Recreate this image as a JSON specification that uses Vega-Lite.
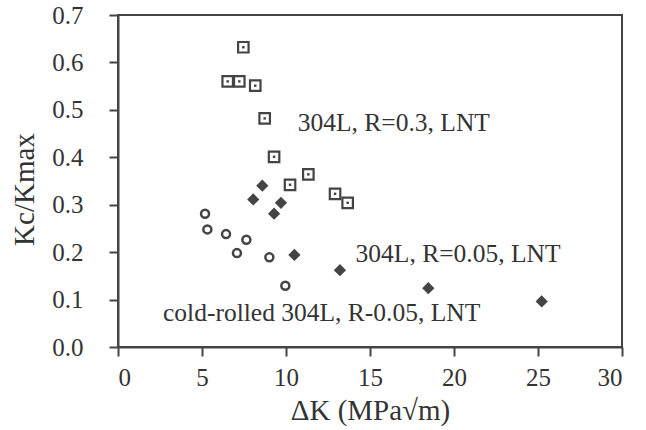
{
  "$schema": "https://vega.github.io/schema/vega-lite/v6.json",
  "autosize": "none",
  "width": 504,
  "height": 332,
  "padding": {"left": 118, "top": 15, "right": 24, "bottom": 83},
  "background": "white",
  "config": {
    "view": {"stroke": "#444", "strokeWidth": 2},
    "axis": {
      "grid": false,
      "domainColor": "#444",
      "domainWidth": 2,
      "tickColor": "#444",
      "tickWidth": 2,
      "tickSize": 9,
      "labelFont": "Liberation Serif",
      "labelFontSize": 25,
      "labelColor": "#333",
      "titleFont": "Liberation Serif",
      "titleFontSize": 29,
      "titleFontWeight": "normal",
      "titleColor": "#333"
    }
  },
  "datasets": {
    "pts": [
      {"series": "R03", "x": 7.46, "y": 0.632},
      {"series": "R03", "x": 6.53, "y": 0.560},
      {"series": "R03", "x": 7.22, "y": 0.560},
      {"series": "R03", "x": 8.17, "y": 0.551},
      {"series": "R03", "x": 8.73, "y": 0.482},
      {"series": "R03", "x": 9.29, "y": 0.401},
      {"series": "R03", "x": 11.33, "y": 0.364},
      {"series": "R03", "x": 10.24, "y": 0.342},
      {"series": "R03", "x": 12.92, "y": 0.323},
      {"series": "R03", "x": 13.67, "y": 0.304},
      {"series": "R005", "x": 8.59, "y": 0.340},
      {"series": "R005", "x": 8.05, "y": 0.311},
      {"series": "R005", "x": 9.70, "y": 0.304},
      {"series": "R005", "x": 9.29, "y": 0.281},
      {"series": "R005", "x": 10.5, "y": 0.194},
      {"series": "R005", "x": 13.21, "y": 0.162},
      {"series": "R005", "x": 18.47, "y": 0.124},
      {"series": "R005", "x": 25.22, "y": 0.096},
      {"series": "cold", "x": 5.18, "y": 0.281},
      {"series": "cold", "x": 5.32, "y": 0.248},
      {"series": "cold", "x": 6.43, "y": 0.238},
      {"series": "cold", "x": 7.64, "y": 0.226},
      {"series": "cold", "x": 7.08, "y": 0.198},
      {"series": "cold", "x": 9.01, "y": 0.189},
      {"series": "cold", "x": 9.96, "y": 0.129}
    ],
    "labels": [
      {"x": 10.7, "y": 0.473, "text": "304L, R=0.3, LNT"},
      {"x": 14.14, "y": 0.196, "text": "304L, R=0.05, LNT"},
      {"x": 2.68, "y": 0.072, "text": "cold-rolled 304L, R-0.05, LNT"}
    ]
  },
  "encoding": {
    "x": {
      "field": "x", "type": "quantitative",
      "scale": {"domain": [0, 30], "nice": false},
      "axis": {"values": [0, 5, 10, 15, 20, 25, 30], "labelPadding": 9, "title": "ΔK (MPa√m)", "titleBaseline": "alphabetic", "titleY": 72, "titleX": 252, "titleAlign": "center"}
    },
    "y": {
      "field": "y", "type": "quantitative",
      "scale": {"domain": [0, 0.7], "nice": false},
      "axis": {"values": [0, 0.1, 0.2, 0.3, 0.4, 0.5, 0.6, 0.7], "format": ".1f", "labelPadding": 26, "title": "Kc/Kmax", "titleBaseline": "alphabetic", "titleX": -85, "titleY": 174, "titleAlign": "center", "titleAngle": -90}
    }
  },
  "layer": [
    {
      "data": {"name": "pts"},
      "transform": [{"filter": "datum.series == 'R03'"}],
      "mark": {"type": "point", "shape": "square", "filled": true, "fill": "white", "stroke": "#444", "strokeWidth": 2.2, "size": 110, "opacity": 1}
    },
    {
      "data": {"name": "pts"},
      "transform": [{"filter": "datum.series == 'R03'"}],
      "mark": {"type": "point", "shape": "square", "filled": true, "fill": "#444", "size": 6, "opacity": 1}
    },
    {
      "data": {"name": "pts"},
      "transform": [{"filter": "datum.series == 'R005'"}],
      "mark": {"type": "point", "shape": "diamond", "filled": true, "fill": "#444", "size": 150, "opacity": 1}
    },
    {
      "data": {"name": "pts"},
      "transform": [{"filter": "datum.series == 'cold'"}],
      "mark": {"type": "point", "shape": "circle", "filled": false, "stroke": "#444", "strokeWidth": 2.5, "size": 64, "opacity": 1}
    },
    {
      "data": {"name": "labels"},
      "mark": {"type": "text", "align": "left", "baseline": "middle", "font": "Liberation Serif", "fontSize": 25.5, "color": "#333"},
      "encoding": {"text": {"field": "text"}}
    }
  ]
}
